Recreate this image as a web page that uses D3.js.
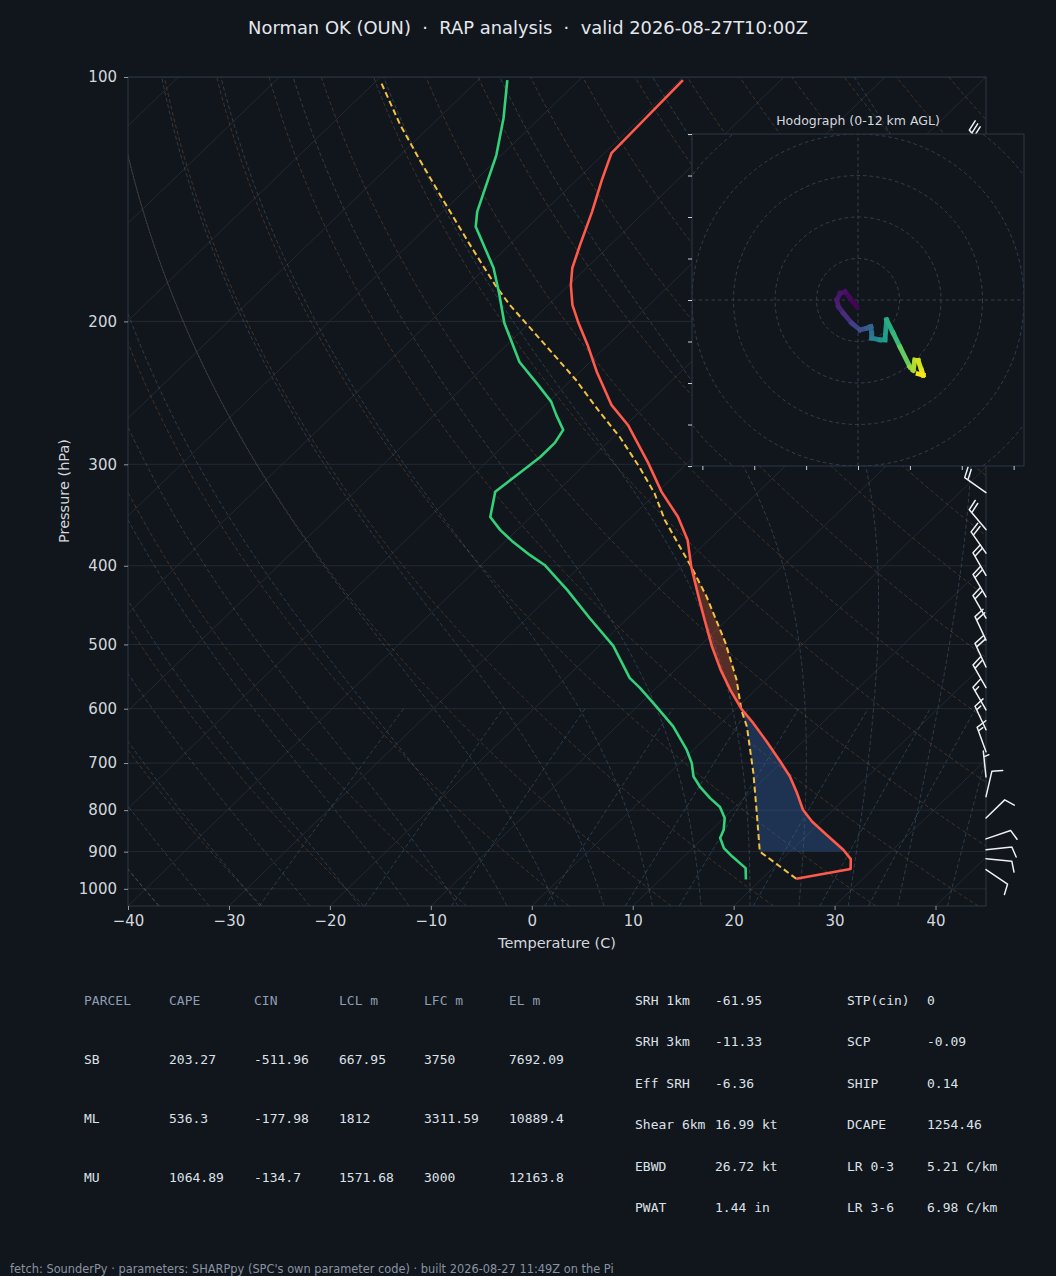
<!DOCTYPE html>
<html><head><meta charset="utf-8">
<script src="https://cdn.jsdelivr.net/npm/d3@7"></script>
<style>
html,body{margin:0;padding:0;background:#11151c;}
svg{display:block;}
text{font-family:"DejaVu Sans",sans-serif;}
.mono{font-family:"DejaVu Sans Mono",monospace;}
</style></head>
<body>
<svg id="chart" width="1056" height="1276"></svg>
<script>
// ---------------- DATA ----------------
const titleText = "Norman OK (OUN)  \u00b7  RAP analysis  \u00b7  valid 2026-08-27T10:00Z";
const footerText = "fetch: SounderPy \u00b7 parameters: SHARPpy (SPC's own parameter code) \u00b7 built 2026-08-27 11:49Z on the Pi";
const pTicks = [100,200,300,400,500,600,700,800,900,1000];
const tTicks = [-40,-30,-20,-10,0,10,20,30,40];

// environment temperature
const tempP = [971.7,945.6,919.3,895.3,858.1,826.2,799.2,762.2,727.3,696.9,658.5,625.1,600.8,568.7,537.4,503.0,466.5,436.6,401.0,371.7,348.3,324.4,298.8,268.3,253.4,230.9,213.8,200.3,190.9,180.4,171.9,161.0,146.6,133.9,124.1,100.9];
const tempC = [23.4,27.8,26.8,25.1,21.9,19.1,17.0,14.7,12.3,9.8,6.4,3.2,0.6,-2.5,-5.5,-8.75,-12.2,-15.2,-19.0,-22.1,-25.4,-29.6,-33.9,-39.8,-43.5,-48.3,-52.0,-55.3,-57.6,-59.8,-61.4,-63.0,-65.2,-67.5,-69.3,-69.7];
// dewpoint
const dewP = [974,943,912.6,891,866,845.9,818.3,793.1,773.2,748.2,727.3,700.1,674.4,631,596.4,566,549.7,502,463.9,428.4,399.1,387.9,372.8,361.3,348.3,324.2,304,293.8,282.3,272.1,260.9,251.1,239.5,224.4,200.9,184.5,171.9,152.9,146.5,124.8,112.3,100.9];
const dewC = [18.5,17.3,14.8,13.1,11.7,11.2,10.1,8.5,6.6,4.4,2.75,1.2,-0.65,-4.4,-8.1,-11.6,-13.7,-18.6,-23.8,-28.9,-33.7,-36.2,-39.4,-41.7,-44.0,-46.1,-45.5,-45.2,-45.2,-45.7,-47.9,-49.8,-52.8,-57.0,-62.5,-66.1,-69.2,-75.2,-76.6,-80.5,-83.6,-87.1];
// surface-based parcel path
const parcelP = [971.7,899.6,799.2,719.7,631.0,602.6,552.8,497.7,436.6,401.0,378.8,351.3,325.4,303.1,278.4,257.1,236.0,213.8,190.9,180.4,161.0,139.7,126.5,114.6,101.3];
const parcelC = [23.4,17.0,12.4,8.3,2.9,0.7,-2.9,-7.8,-14.4,-19.0,-22.2,-26.4,-30.2,-34.2,-39.2,-44.3,-49.6,-56.2,-63.8,-67.3,-73.9,-82.0,-87.6,-93.1,-99.5];

// wind barbs (pressure hPa, direction from deg, speed kt)
const barbP   = [123,150,180,215,255,295,325,361,386,411,437,464,494,533,565,602,637,678,728,770,818,868,895,918,947];
const barbDir = [320,315,315,320,320,315,305,320,325,330,330,330,335,335,330,330,335,340,354,13,46,71,84,96,124];
const barbSpd = [30,30,30,25,25,20,20,20,20,20,20,20,20,20,20,15,15,15,5,10,10,10,10,10,10];

// hodograph (u, v components and height km)
const hodoU = [-0.3,-1.9,-3.1,-4.3,-5.1,-4.7,-3.5,-1.5,0.5,2.1,3.1,3.3,3.3,5.3,6.5,6.9,8.5,10.1,12.5,13.3,13.7,14.5,15.3,15.7,14.5];
const hodoV = [-1.6,0.4,2.0,1.6,0.0,-1.6,-3.2,-5.6,-7.2,-6.8,-6.4,-8.0,-9.2,-9.6,-9.6,-4.8,-8.0,-11.3,-16.1,-16.9,-14.5,-14.6,-16.9,-18.1,-17.8];
const hodoH = [0,0.2,0.4,0.6,0.8,1.0,1.3,1.8,2.6,3.2,3.6,4.2,4.8,5.8,6.5,7.2,7.8,8.4,9.8,10.3,10.7,11.0,11.4,11.7,12.0];
const hodoRings = [10,20,30,40,50];
const hodoYTicks = [-40,-30,-20,-10,0,10,20,30,40];
const hodoXTicks = [-37.5,-25,-12.5,0,12.5,25,37.5];

// parcel table
const parcelHeader = ["PARCEL","CAPE","CIN","LCL m","LFC m","EL m"];
const parcelNames = ["SB","ML","MU"];
const capeVals = ["203.27","536.3","1064.89"];
const cinVals  = ["-511.96","-177.98","-134.7"];
const lclVals  = ["667.95","1812","1571.68"];
const lfcVals  = ["3750","3311.59","3000"];
const elVals   = ["7692.09","10889.4","12163.8"];
// index table
const idxLabelsA = ["SRH 1km","SRH 3km","Eff SRH","Shear 6km","EBWD","PWAT"];
const idxValuesA = ["-61.95","-11.33","-6.36","16.99 kt","26.72 kt","1.44 in"];
const idxLabelsB = ["STP(cin)","SCP","SHIP","DCAPE","LR 0-3","LR 3-6"];
const idxValuesB = ["0","-0.09","0.14","1254.46","5.21 C/km","6.98 C/km"];

// ---------------- DRAWING ----------------
const BG = "#11151c", FG = "#d3d8de", SPINE = "#2d3846";
const svg = d3.select("#chart");
svg.append("rect").attr("width",1056).attr("height",1276).attr("fill",BG);

const L=128, R=986, T=77, B=906;
const xT = d3.scaleLinear().domain([-40,45]).range([L,R]);
const yP = d3.scaleLog().domain([1050,100]).range([B,T]);
const skewK = (R-L)/(B-T);
const X = (t,p) => xT(t) + (B - yP(p))*skewK;

svg.append("clipPath").attr("id","plotclip").append("rect")
  .attr("x",L).attr("y",T).attr("width",R-L).attr("height",B-T);
const plot = svg.append("g").attr("clip-path","url(#plotclip)");

const line = d3.line().x(d=>X(d.t,d.p)).y(d=>yP(d.p));
const pGrid = d3.range(1050, 99.9, -5);

// horizontal pressure grid
plot.selectAll("line.hgrid").data(pTicks).join("line").attr("class","hgrid")
  .attr("x1",L).attr("x2",R).attr("y1",d=>yP(d)).attr("y2",d=>yP(d))
  .attr("stroke","#252d37").attr("stroke-width",0.9);
// skewed isotherms
plot.selectAll("line.iso").data(d3.range(-160,50,10)).join("line").attr("class","iso")
  .attr("x1",d=>X(d,1050)).attr("y1",yP(1050)).attr("x2",d=>X(d,100)).attr("y2",yP(100))
  .attr("stroke","#252d37").attr("stroke-width",0.9);

// dry adiabats
const thetas = d3.range(233,533,10);
plot.selectAll("path.dry").data(thetas).join("path").attr("class","dry")
  .attr("d",th=>line(pGrid.map(p=>({p,t:th*Math.pow(p/1000,0.28571)-273.15}))))
  .attr("fill","none").attr("stroke","#c8864a").attr("stroke-opacity",0.3)
  .attr("stroke-width",0.9).attr("stroke-dasharray","4,2.5");

// moist adiabats
const Rd=287.04749, Cp=1004.6662, Lv=2.50084e6, eps=0.6219569;
const esat = TK => {const tc=TK-273.15; return 6.112*Math.exp(17.67*tc/(tc+243.5));};
const dTdp = (p,TK) => {const es=esat(TK); const rs=eps*es/(p-es);
  return (Rd*TK+Lv*rs)/(Cp+Lv*Lv*rs*eps/(Rd*TK*TK))/p;};
function moistLine(T0K){
  const integ = (h, pEnd) => {
    let TK=T0K, p=1000; const out=[];
    while((h<0 && p>pEnd+1e-6) || (h>0 && p<pEnd-1e-6)){
      const k1=dTdp(p,TK), k2=dTdp(p+h/2,TK+h/2*k1), k3=dTdp(p+h/2,TK+h/2*k2), k4=dTdp(p+h,TK+h*k3);
      TK += h/6*(k1+2*k2+2*k3+k4); p += h; out.push({p,t:TK-273.15});
    }
    return out;
  };
  return integ(5,1050).reverse().concat([{p:1000,t:T0K-273.15}], integ(-5,100));
}
const moistT0 = d3.range(233,320,5);
plot.selectAll("path.moist").data(moistT0).join("path").attr("class","moist")
  .attr("d",t0=>line(moistLine(t0)))
  .attr("fill","none").attr("stroke","#6f93ad").attr("stroke-opacity",0.35)
  .attr("stroke-width",0.9).attr("stroke-dasharray","4,2.5");

// mixing ratio lines
const mixW = [0.0004,0.001,0.002,0.004,0.007,0.01,0.016,0.024,0.032];
const mixGrid = d3.range(1050,599.9,-10);
plot.selectAll("path.mix").data(mixW).join("path").attr("class","mix")
  .attr("d",w=>line(mixGrid.map(p=>{const e=p*w/(eps+w); const a=Math.log(e/6.112);
      return {p,t:243.5*a/(17.67-a)};})))
  .attr("fill","none").attr("stroke","#5a9ab8").attr("stroke-opacity",0.35)
  .attr("stroke-width",0.9).attr("stroke-dasharray","4,2.5");

// CAPE / CIN shading
function interpLogP(ps, ts, p){
  const lp=Math.log(p);
  for(let i=0;i<ps.length-1;i++){
    if(p<=ps[i] && p>=ps[i+1]){
      const f=(Math.log(ps[i])-lp)/(Math.log(ps[i])-Math.log(ps[i+1]));
      return ts[i]+f*(ts[i+1]-ts[i]);
    }
  }
  return NaN;
}
const envAt = p => interpLogP(tempP,tempC,p);
const parAt = p => interpLogP(parcelP,parcelC,p);
const fillGrid = d3.range(Math.log(parcelP[1]), Math.log(398), -0.002).map(Math.exp);
const areaCIN = d3.area().y(p=>yP(p)).x0(p=>X(parAt(p),p)).x1(p=>X(Math.max(parAt(p),envAt(p)),p));
const areaCAPE = d3.area().y(p=>yP(p)).x0(p=>X(envAt(p),p)).x1(p=>X(Math.max(parAt(p),envAt(p)),p));
plot.append("path").attr("d",areaCIN(fillGrid)).attr("fill","#3a6fc4").attr("fill-opacity",0.32);
plot.append("path").attr("d",areaCAPE(fillGrid)).attr("fill","#e8643c").attr("fill-opacity",0.32);

// profiles
const toPts = (ps,ts)=>ps.map((p,i)=>({p,t:ts[i]}));
plot.append("path").attr("d",line(toPts(parcelP,parcelC))).attr("fill","none")
  .attr("stroke","#f4c242").attr("stroke-width",2).attr("stroke-dasharray","6,3.5");
plot.append("path").attr("d",line(toPts(tempP,tempC))).attr("fill","none")
  .attr("stroke","#ff5a4a").attr("stroke-width",2.6).attr("stroke-linejoin","round");
plot.append("path").attr("d",line(toPts(dewP,dewC))).attr("fill","none")
  .attr("stroke","#33d17a").attr("stroke-width",2.6).attr("stroke-linejoin","round");

// spines
svg.append("rect").attr("x",L).attr("y",T).attr("width",R-L).attr("height",B-T)
  .attr("fill","none").attr("stroke",SPINE).attr("stroke-width",1);

// axes
const yAxis = d3.axisLeft(yP).tickValues(pTicks).tickFormat(d3.format("d")).tickSize(4).tickPadding(7);
const gy = svg.append("g").attr("transform",`translate(${L},0)`).call(yAxis);
const xAxis = d3.axisBottom(xT).tickValues(tTicks).tickFormat(d3.format("d")).tickSize(4).tickPadding(5);
const gx = svg.append("g").attr("transform",`translate(0,${B})`).call(xAxis);
[gx,gy].forEach(g=>{
  g.select(".domain").remove();
  g.selectAll(".tick line").attr("stroke","#8f99a5");
  g.selectAll(".tick text").attr("fill",FG).attr("font-size","15px").attr("font-family","DejaVu Sans");
});
svg.append("text").attr("x",(L+R)/2).attr("y",948).attr("text-anchor","middle")
  .attr("fill",FG).attr("font-size","14.5px").text("Temperature (C)");
svg.append("text").attr("transform","translate(69,491) rotate(-90)").attr("text-anchor","middle")
  .attr("fill",FG).attr("font-size","14.5px").text("Pressure (hPa)");

// wind barbs
function barbPath(x0,y0,dir,spd,Ls){
  const th=dir*Math.PI/180;
  const dx=Math.sin(th), dy=-Math.cos(th);   // toward where wind comes from
  const qx=-dy, qy=dx;                        // barb side
  const Hh=0.4*Ls, Wd=0.25*Ls, sp=0.15*Ls;
  let s=Math.round(spd/5)*5;
  const nFlag=Math.floor(s/50); s-=nFlag*50;
  const nFull=Math.floor(s/10); s-=nFull*10;
  const half = s>=5;
  const P=(o,h,f)=>[x0+(o+f)*dx+h*qx, y0+(o+f)*dy+h*qy];
  let d=`M${x0},${y0}L${P(Ls,0,0)}`;
  let off=Ls;
  for(let i=0;i<nFlag;i++){ d+=`M${P(off,0,0)}L${P(off-Wd/2,Hh,0)}L${P(off-Wd,0,0)}Z`; off-=Wd+sp; }
  for(let i=0;i<nFull;i++){ d+=`M${P(off,0,0)}L${P(off,Hh,Wd/2)}`; off-=sp; }
  if(half){ if(nFull===0&&nFlag===0) off-=1.5*sp; d+=`M${P(off,0,0)}L${P(off,Hh/2,Wd/4)}`; }
  return d;
}
svg.append("g").selectAll("path").data(barbP).join("path")
  .attr("d",(p,i)=>barbPath(R,yP(p),barbDir[i],barbSpd[i],26))
  .attr("fill","none").attr("stroke","#eef1f4").attr("stroke-width",1.5).attr("stroke-linecap","round");

// ---------------- HODOGRAPH INSET ----------------
const hx = d3.scaleLinear().domain([-40,40]).range([692,1024]);
const hy = d3.scaleLinear().domain([-40,40]).range([466,134]);
const hodo = svg.append("g");
hodo.append("rect").attr("x",692).attr("y",134).attr("width",332).attr("height",332).attr("fill",BG);
svg.append("clipPath").attr("id","hodoclip").append("rect").attr("x",692).attr("y",134).attr("width",332).attr("height",332);
const hg = hodo.append("g").attr("clip-path","url(#hodoclip)");
hg.selectAll("circle").data(hodoRings).join("circle")
  .attr("cx",hx(0)).attr("cy",hy(0)).attr("r",d=>hx(d)-hx(0))
  .attr("fill","none").attr("stroke","#34404f").attr("stroke-width",1).attr("stroke-dasharray","3.5,3");
hg.append("line").attr("x1",hx(-40)).attr("x2",hx(40)).attr("y1",hy(0)).attr("y2",hy(0))
  .attr("stroke","#34404f").attr("stroke-dasharray","3.5,3");
hg.append("line").attr("x1",hx(0)).attr("x2",hx(0)).attr("y1",hy(-40)).attr("y2",hy(40))
  .attr("stroke","#34404f").attr("stroke-dasharray","3.5,3");
const segs = d3.range(hodoU.length-1);
hg.selectAll("line.seg").data(segs).join("line").attr("class","seg")
  .attr("x1",i=>hx(hodoU[i])).attr("y1",i=>hy(hodoV[i]))
  .attr("x2",i=>hx(hodoU[i+1])).attr("y2",i=>hy(hodoV[i+1]))
  .attr("stroke",i=>d3.interpolateViridis((hodoH[i]+hodoH[i+1])/24))
  .attr("stroke-width",4.8).attr("stroke-linecap","square");
hodo.append("rect").attr("x",692).attr("y",134).attr("width",332).attr("height",332)
  .attr("fill","none").attr("stroke",SPINE).attr("stroke-width",1);
const hya = d3.axisLeft(hy).tickValues(hodoYTicks).tickFormat("").tickSize(4);
const hxa = d3.axisBottom(hx).tickValues(hodoXTicks).tickFormat("").tickSize(4);
const ghy = hodo.append("g").attr("transform","translate(692,0)").call(hya);
const ghx = hodo.append("g").attr("transform","translate(0,466)").call(hxa);
[ghx,ghy].forEach(g=>{ g.select(".domain").remove(); g.selectAll(".tick line").attr("stroke","#c9ced5"); });
hodo.append("text").attr("x",hx(0)).attr("y",124.5).attr("text-anchor","middle")
  .attr("fill",FG).attr("font-size","12.5px").text("Hodograph (0-12 km AGL)");

// ---------------- TITLE / TABLES / FOOTER ----------------
svg.append("text").attr("x",528).attr("y",33.5).attr("text-anchor","middle")
  .style("white-space","pre").attr("xml:space","preserve")
  .attr("fill","#e4e8ed").attr("font-size","17.9px").text(titleText);

const colX = [84,169,254,339,424,509];
const rowY = [1005,1063.5,1122.5,1181.5];
const tbl = svg.append("g").attr("class","mono").attr("font-size","13px");
tbl.selectAll("text.h").data(parcelHeader).join("text").attr("class","h mono")
  .attr("x",(d,i)=>colX[i]).attr("y",rowY[0]).attr("fill","#8d9db2").text(d=>d);
const cols = [parcelNames,capeVals,cinVals,lclVals,lfcVals,elVals];
cols.forEach((col,ci)=>{
  tbl.selectAll(`text.c${ci}`).data(col).join("text").attr("class",`c${ci} mono`)
    .attr("x",colX[ci]).attr("y",(d,ri)=>rowY[ri+1]).attr("fill","#dde2e8").text(d=>d);
});
const idxRowY = [1005,1046.4,1087.8,1129.2,1170.6,1212];
const idxCols = [[idxLabelsA,635],[idxValuesA,715],[idxLabelsB,847],[idxValuesB,927]];
idxCols.forEach(([arr,x],ci)=>{
  tbl.selectAll(`text.i${ci}`).data(arr).join("text").attr("class",`i${ci} mono`)
    .attr("x",x).attr("y",(d,ri)=>idxRowY[ri]).attr("fill","#dde2e8").text(d=>d);
});

svg.append("text").attr("x",10).attr("y",1273).attr("fill","#8894a1")
  .attr("font-size","11.4px").text(footerText);
</script>
</body></html>
